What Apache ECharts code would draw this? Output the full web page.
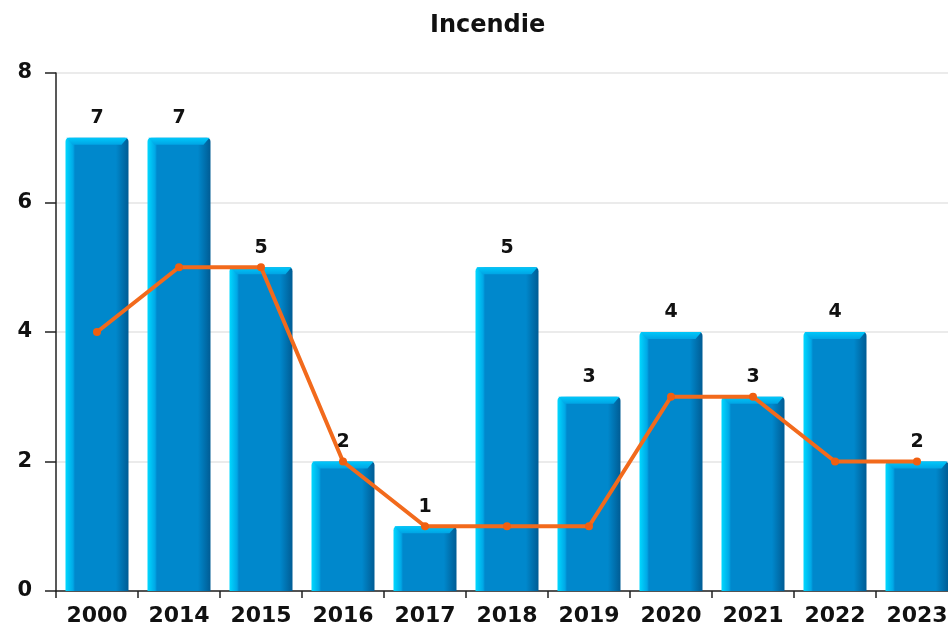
<!DOCTYPE html>
<html><head><meta charset="utf-8">
<script src="https://cdn.jsdelivr.net/npm/echarts@6/dist/echarts.min.js"></script>
<style>html,body{margin:0;padding:0;background:#fff;overflow:hidden}#c{width:960px;height:627px}</style>
</head><body><div id="c"></div>
<script>
const categories = ['2000','2014','2015','2016','2017','2018','2019','2020','2021','2022','2023'];
const barValues = [7,7,5,2,1,5,3,4,3,4,2];
const lineValues = [4,5,5,2,1,1,1,3,3,2,2];
const yTicks = [0,2,4,6,8];

const FONT = 'DejaVu Sans';
const BW = 63;
const chart = echarts.init(document.getElementById('c'), null, {renderer:'canvas'});
chart.setOption({
  animation:false,
  title:{text:'Incendie', left:425, top:9, textStyle:{fontFamily:FONT,fontWeight:'bold',fontSize:24,color:'#111'}},
  grid:{left:56, top:73, width:902, height:518, containLabel:false},
  xAxis:{type:'category', data:categories,
    axisLine:{lineStyle:{color:'#222',width:1.5}},
    axisTick:{show:true,length:7,lineStyle:{color:'#222',width:1.5}},
    axisLabel:{fontFamily:FONT,fontWeight:'bold',fontSize:22,color:'#111',margin:14}},
  yAxis:{type:'value', min:0, max:8, interval:2,
    axisLine:{show:true,lineStyle:{color:'#222',width:1.5}},
    axisTick:{show:true,length:11,lineStyle:{color:'#222',width:1.5}},
    splitLine:{lineStyle:{color:'#e4e4e4',width:1.5}},
    axisLabel:{fontFamily:FONT,fontWeight:'bold',fontSize:21,color:'#111',margin:24}},
  series:[
    {type:'bar', data:barValues, barWidth:BW, z:2,
      itemStyle:{borderRadius:[4,4,0,0], color:new echarts.graphic.LinearGradient(0,0,1,0,[
        {offset:0,color:'#00d8ff'},{offset:0.12,color:'#00a8e6'},{offset:0.15,color:'#0088cc'},
        {offset:0.8,color:'#0088cc'},{offset:1,color:'#005c94'}])},
      label:{show:true,position:'top',distance:10,fontFamily:FONT,fontWeight:'bold',fontSize:19,color:'#111'}},
    {type:'custom', data:barValues, z:3, silent:true,
      renderItem:function(params, api){
        const top = api.coord([api.value(0), api.value(1)]);
        const x0 = top[0]-BW/2, x1 = top[0]+BW/2, y0 = top[1], b = 7;
        return {type:'polygon', shape:{points:[[x0+1,y0],[x1-1,y0],[x1-b,y0+b],[x0+b,y0+b]]},
          style:{fill:new echarts.graphic.LinearGradient(0,0,0,1,[{offset:0,color:'#00c8fa'},{offset:1,color:'#00a4e4'}])}};
      },
      encode:{x:0,y:1}},
    {type:'line', data:lineValues, z:5, symbol:'circle', symbolSize:8,
      lineStyle:{color:'#f26a1c',width:4},
      itemStyle:{color:'#f05f10'}}
  ]
});
</script></body></html>
